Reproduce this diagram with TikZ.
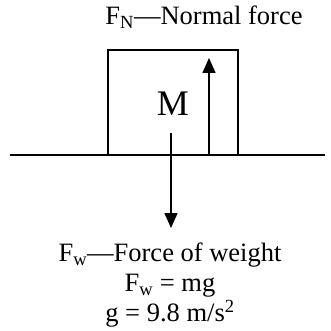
\documentclass[tikz,border=0pt]{standalone}
\usepackage{fontspec}
\setmainfont{Liberation Serif}
\usetikzlibrary{arrows.meta,positioning}

\begin{document}
\begin{tikzpicture}[x=1pt, y=-1pt,
    font=\fontsize{26.5}{30}\selectfont,
    force/.style={-{Triangle[width=13pt,length=15pt]}, line width=1.6pt},
    label/.style={inner sep=0pt, align=center}
]
    \useasboundingbox (0,0) rectangle (330,331);
    % ground and block
    \coordinate (gl) at (10,155);
    \coordinate (gr) at (325,155);
    \draw[line width=1.6pt] (gl) -- (gr);
    \node[draw, line width=1.6pt, minimum width=130pt, minimum height=105pt, inner sep=0pt] (block) at (173,102.5) {};
    \node[font=\fontsize{36}{40}\selectfont, inner sep=0pt] (mass) at (173,103.5) {M};

    % forces
    \coordinate (nbase) at (209,155);
    \coordinate (ntip) at (209,58);
    \draw[force] (nbase) -- (ntip);
    \coordinate (wbase) at (171,133);
    \coordinate (wtip) at (171,228);
    \draw[force] (wbase) -- (wtip);

    \node[label] (fn) at (204,17) {F\textsubscript{N}---Normal force};
    \node[label, anchor=north] (fw) at (170,243) {F\textsubscript{w}---Force of weight\\F\textsubscript{w} = mg\\g = 9.8 m/s\textsuperscript{2}};
\end{tikzpicture}
\end{document}
